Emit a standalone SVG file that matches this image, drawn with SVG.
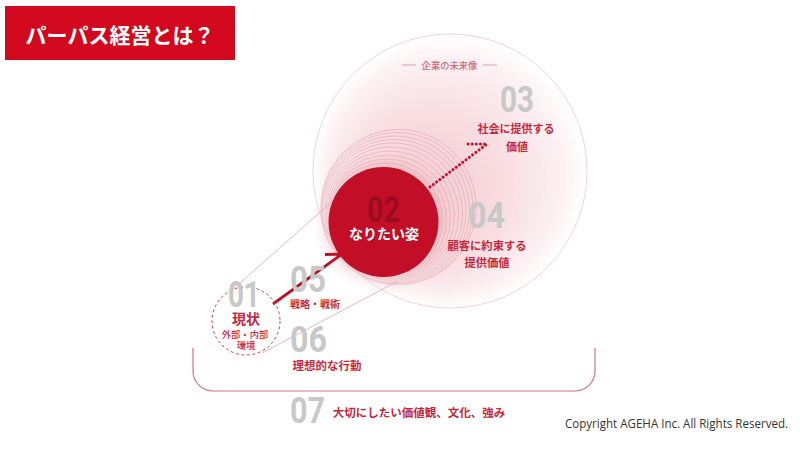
<svg xmlns="http://www.w3.org/2000/svg" width="800" height="450" viewBox="0 0 800 450">
<defs>
<radialGradient id="bigFill" cx="450" cy="171" r="137" fx="405" fy="215" gradientUnits="userSpaceOnUse">
<stop offset="0" stop-color="#f2c6cc"/>
<stop offset="0.55" stop-color="#f8dde1"/>
<stop offset="0.85" stop-color="#fcf0f2"/>
<stop offset="1" stop-color="#ffffff"/>
</radialGradient>
<radialGradient id="halo" cx="383.5" cy="222" r="72" gradientUnits="userSpaceOnUse">
<stop offset="0.7" stop-color="#e39aa4" stop-opacity="0.45"/>
<stop offset="1" stop-color="#f4d0d5" stop-opacity="0"/>
</radialGradient>
<linearGradient id="ringFade" x1="345" y1="265" x2="425" y2="175" gradientUnits="userSpaceOnUse">
<stop offset="0" stop-color="#e3a3ab" stop-opacity="0.15"/>
<stop offset="0.5" stop-color="#e3a3ab" stop-opacity="0.9"/>
<stop offset="1" stop-color="#e3a3ab" stop-opacity="1"/>
</linearGradient>
<style>
.num{font-family:Roboto,"DejaVu Sans",sans-serif;font-weight:700;fill:#c8c8c8;font-size:36px}
.jp{font-family:"Noto Sans CJK JP",sans-serif;font-weight:700;fill:#c7283c;dominant-baseline:central;text-anchor:middle}
.ring{fill:none;stroke:url(#ringFade);stroke-width:0.6}
.thin{stroke:#e2a4ac;stroke-width:0.8;fill:none}
</style>
</defs>
<rect width="800" height="450" fill="#ffffff"/>

<g id="title">
<rect x="5" y="6" width="230" height="54" fill="#d2081e"/>
<text x="120" y="34" font-family="'Noto Sans CJK JP',sans-serif" font-weight="700" font-size="21" fill="#ffffff" text-anchor="middle" dominant-baseline="central">パーパス経営とは？</text>
</g>

<g id="future">
<circle cx="450" cy="171" r="137" fill="url(#bigFill)" stroke="#eec8cc" stroke-width="0.8"/>
<line x1="402" y1="65" x2="416" y2="65" stroke="#d88892" stroke-width="0.8"/>
<line x1="483" y1="65" x2="497" y2="65" stroke="#d88892" stroke-width="0.8"/>
<text x="449.5" y="65" class="jp" font-size="9.3" style="fill:#cc6c78;font-weight:500">企業の未来像</text>
</g>

<g id="rings">
<circle cx="383.5" cy="222" r="72" fill="url(#halo)"/>
<circle class="ring" cx="385" cy="220.5" r="57.5"/>
<circle class="ring" cx="386.5" cy="219" r="60"/>
<circle class="ring" cx="388" cy="217.5" r="62.5"/>
<circle class="ring" cx="389.5" cy="216" r="65"/>
<circle class="ring" cx="391" cy="214.5" r="67.5"/>
<circle class="ring" cx="392.5" cy="213" r="70"/>
<circle class="ring" cx="394" cy="211.5" r="72"/>
<circle class="ring" cx="395.5" cy="210" r="74"/>
<circle class="ring" cx="397" cy="208.5" r="76"/>
<circle class="ring" cx="398.5" cy="207" r="77.5"/>
</g>

<g id="connectors">
<line class="thin" x1="232" y1="290" x2="334" y2="200"/>
<line class="thin" x1="262" y1="353" x2="398" y2="281"/>
<path d="M430 187 L487 144 L467 144" fill="none" stroke="#c8102e" stroke-width="3" stroke-dasharray="0.1 4" stroke-linecap="round"/>
<path d="M273 304 L342 254 L325 254.5" fill="none" stroke="#be0f27" stroke-width="2.8" stroke-linejoin="miter"/>
</g>

<g id="node02">
<circle cx="383.5" cy="222" r="55" fill="#c20e26"/>
<text x="367" y="222" class="num" style="fill:#9c0c20" textLength="33" lengthAdjust="spacingAndGlyphs">02</text>
<text x="384" y="233" class="jp" font-size="14" style="fill:#ffffff">なりたい姿</text>
</g>

<g id="node03">
<text x="500" y="112" class="num" textLength="34" lengthAdjust="spacingAndGlyphs">03</text>
<text x="516" y="128" class="jp" font-size="11">社会に提供する</text>
<text x="517" y="146" class="jp" font-size="11">価値</text>
</g>

<g id="node04">
<text x="468" y="228" class="num" textLength="37" lengthAdjust="spacingAndGlyphs">04</text>
<text x="487" y="245" class="jp" font-size="11.3">顧客に約束する</text>
<text x="487" y="262" class="jp" font-size="11.3">提供価値</text>
</g>

<g id="node01">
<circle cx="246" cy="321" r="34" fill="none" stroke="#c8425a" stroke-width="1" stroke-dasharray="3 2.5"/>
<text x="228" y="307" class="num" textLength="32" lengthAdjust="spacingAndGlyphs">01</text>
<text x="246" y="318" class="jp" font-size="14">現状</text>
<text x="245" y="334" class="jp" font-size="9.3" style="font-weight:500">外部・内部</text>
<text x="246" y="345" class="jp" font-size="9.3" style="font-weight:500">環境</text>
</g>

<g id="node05">
<text x="290" y="292" class="num" textLength="36" lengthAdjust="spacingAndGlyphs">05</text>
<text x="315" y="303" class="jp" font-size="10">戦略・戦術</text>
</g>

<g id="node06">
<text x="290" y="352" class="num" textLength="37" lengthAdjust="spacingAndGlyphs">06</text>
<text x="327" y="365" class="jp" font-size="11.5">理想的な行動</text>
</g>

<g id="bracket">
<path d="M193 348 V371 A20 20 0 0 0 213 391 H575 A20 20 0 0 0 595 371 V348" fill="none" stroke="#d07582" stroke-width="1.2"/>
</g>

<g id="node07">
<text x="290" y="423" class="num" textLength="35" lengthAdjust="spacingAndGlyphs">07</text>
<text x="419" y="412" class="jp" font-size="11.5">大切にしたい価値観、文化、強み</text>
</g>

<text x="565" y="428" font-family="'Open Sans','Liberation Sans',sans-serif" font-size="12" fill="#333333" textLength="223" lengthAdjust="spacingAndGlyphs">Copyright AGEHA Inc. All Rights Reserved.</text>
</svg>
